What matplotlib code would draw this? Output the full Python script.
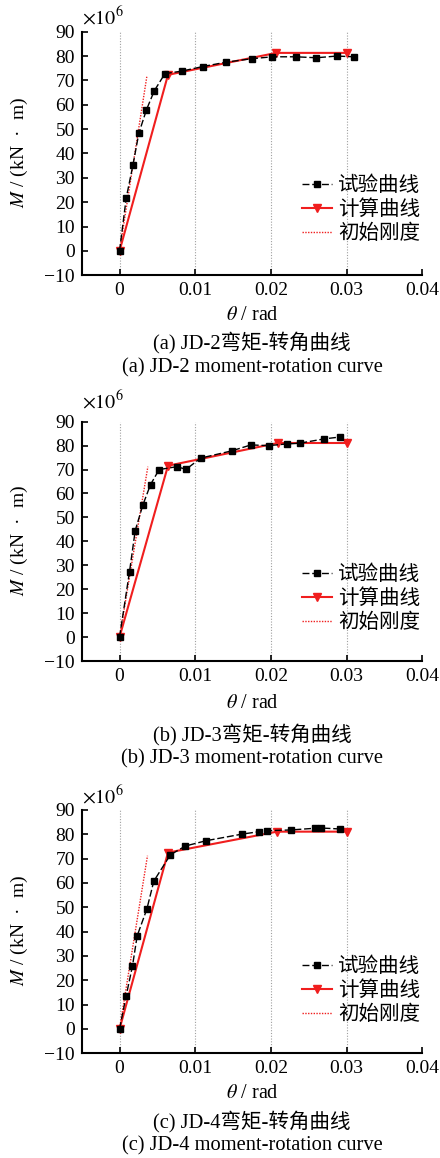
import matplotlib
matplotlib.use("Agg")
import matplotlib.pyplot as plt

plt.rcParams['font.family'] = ['Liberation Serif', 'Noto Sans CJK SC']
plt.rcParams['mathtext.fontset'] = 'stix'
plt.rcParams['axes.unicode_minus'] = True

# ---------------- data (M in 10^6 kN·m) ----------------
a_exp_theta = [0, 0.00088, 0.00176, 0.00255, 0.00356, 0.0046, 0.0060, 0.0082, 0.0110,
               0.0141, 0.01745, 0.0202, 0.0233, 0.0260, 0.0287, 0.0310]
a_exp_M = [0, 21.7, 35.1, 48.3, 58.0, 65.8, 72.8, 73.8, 75.7, 77.5, 78.9, 79.7, 79.7,
           79.3, 80.0, 79.7]
a_calc_theta = [0, 0.0064, 0.0207, 0.0300]
a_calc_M = [0, 72.3, 81.3, 81.3]
a_init_theta = [0, 0.0036]
a_init_M = [0, 71.5]

b_exp_theta = [0, 0.00132, 0.00207, 0.00308, 0.00409, 0.00523, 0.00756, 0.00879, 0.01073,
               0.01481, 0.01736, 0.01969, 0.0221, 0.02378, 0.0270, 0.0291]
b_exp_M = [0, 27.4, 44.5, 55.2, 63.7, 70.0, 71.2, 70.1, 74.8, 77.8, 80.3, 80.0, 80.7,
           81.0, 82.8, 83.6]
b_calc_theta = [0, 0.0064, 0.0209, 0.0300]
b_calc_M = [0, 71.6, 81.1, 81.1]
b_init_theta = [0, 0.00374]
b_init_M = [0, 71.2]

c_exp_theta = [0, 0.00088, 0.00171, 0.00233, 0.00361, 0.00453, 0.00672, 0.0087, 0.01147,
               0.01621, 0.01845, 0.01947, 0.02263, 0.02583, 0.02662, 0.02913]
c_exp_M = [0, 13.7, 25.9, 38.3, 49.3, 60.8, 71.6, 75.2, 77.4, 80.1, 81.1, 81.5, 81.8,
           82.5, 82.6, 82.2]
c_calc_theta = [0, 0.0064, 0.0208, 0.0300]
c_calc_M = [0, 72.5, 81.1, 81.1]
c_init_theta = [0, 0.00369]
c_init_M = [0, 71.2]

x_ticks = [0, 0.01, 0.02, 0.03, 0.04]
x_tick_labels = ["0", "0.01", "0.02", "0.03", "0.04"]
y_ticks = [-10, 0, 10, 20, 30, 40, 50, 60, 70, 80, 90]
y_tick_labels = ["\u221210", "0", "10", "20", "30", "40", "50", "60", "70", "80", "90"]

legend_labels = ["试验曲线", "计算曲线", "初始刚度"]
captions_cn = ["(a) JD-2弯矩-转角曲线", "(b) JD-3弯矩-转角曲线", "(c) JD-4弯矩-转角曲线"]
captions_en = ["(a) JD-2 moment-rotation curve", "(b) JD-3 moment-rotation curve",
               "(c) JD-4 moment-rotation curve"]

panels = [
    (a_exp_theta, a_exp_M, a_calc_theta, a_calc_M, a_init_theta, a_init_M),
    (b_exp_theta, b_exp_M, b_calc_theta, b_calc_M, b_init_theta, b_init_M),
    (c_exp_theta, c_exp_M, c_calc_theta, c_calc_M, c_init_theta, c_init_M),
]

# ---------------- layout (pixels) ----------------
W, H = 440, 1158
fig = plt.figure(figsize=(W / 100, H / 100), dpi=100)

ax_left, ax_right = 81.7, 422.3
ax_tops = [31.7, 421.7, 810.0]
ax_bots = [275.3, 661.0, 1053.3]
legend_y = [185, 574, 966]
xlabel_y = [315, 704, 1093]
cap1_y = [343, 735, 1122]
cap2_y = [368, 759, 1146]
sci_y = [18, 402, 797]

FS = 14.0
RED = '#f01e1e'

for i, (et, em, ct, cm, it, im) in enumerate(panels):
    hgt = ax_bots[i] - ax_tops[i]
    rect = [ax_left / W, 1 - ax_bots[i] / H, (ax_right - ax_left) / W, hgt / H]
    ax = fig.add_axes(rect)
    ax.set_xlim(-0.005, 0.04)
    ax.set_ylim(-10, 90)
    for g in x_ticks[:-1]:
        ax.axvline(g, color='#a0a0a0', lw=0.8, ls=(0, (1, 1.5)), zorder=0)
    ax.plot(it, im, color=RED, lw=1.0, ls=(0, (1, 1)), label=legend_labels[2], zorder=2)
    ax.plot(ct, cm, color=RED, lw=1.5, marker='v', ms=5.5, label=legend_labels[1], zorder=3)
    ax.plot(et, em, color='black', lw=1.0, ls=(0, (5, 2)), marker='s', ms=5,
            label=legend_labels[0], zorder=4)

    ax.spines['top'].set_visible(False)
    ax.spines['right'].set_visible(False)
    ax.spines['left'].set_linewidth(1.5)
    ax.spines['bottom'].set_linewidth(1.5)
    ax.set_xticks(x_ticks)
    ax.set_xticklabels(x_tick_labels)
    ax.set_yticks(y_ticks)
    ax.set_yticklabels(y_tick_labels)
    ax.tick_params(direction='in', length=4.5, width=1.2, labelsize=FS, pad=5)
    ax.set_ylabel("$M$ / (kN  ·  m)", fontsize=FS)
    ax.yaxis.set_label_coords((30 - ax_left) / (ax_right - ax_left), 0.505)
    ax.patch.set_alpha(0)

    handles, labels = ax.get_legend_handles_labels()
    order = [2, 1, 0]
    ax.legend([handles[k] for k in order], [labels[k] for k in order],
              loc='center left', frameon=False, fontsize=14.8,
              bbox_to_anchor=((292 - ax_left) / (ax_right - ax_left),
                              (ax_bots[i] - (legend_y[i] + 25)) / hgt),
              handlelength=1.45, handletextpad=0.3, labelspacing=0.22, borderpad=0)

    fig.text(ax_left / W, 1 - sci_y[i] / H, r"$\times10^{6}$", fontsize=FS + 0.5,
             ha='left', va='center')
    xc = (ax_left + ax_right) / 2 / W
    fig.text(xc, 1 - xlabel_y[i] / H, r"$\theta$ / rad", fontsize=FS + 0.5,
             ha='center', va='center')
    fig.text(xc, 1 - cap1_y[i] / H, captions_cn[i], fontsize=14.8, ha='center', va='center')
    fig.text(xc, 1 - cap2_y[i] / H, captions_en[i], fontsize=14.8, ha='center', va='center')

fig.savefig("out.png", dpi=100)
